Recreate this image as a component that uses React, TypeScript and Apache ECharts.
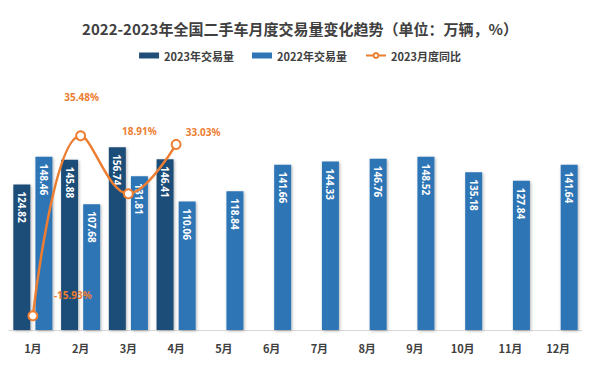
import React, { useEffect, useRef } from "react";
import * as echarts from "echarts";

const months = ["1月", "2月", "3月", "4月", "5月", "6月", "7月", "8月", "9月", "10月", "11月", "12月"];
const vol2023 = [124.82, 145.88, 156.74, 146.41, null, null, null, null, null, null, null, null];
const vol2022 = [148.46, 107.68, 131.81, 110.06, 118.84, 141.66, 144.33, 146.76, 148.52, 135.18, 127.84, 141.64];
const yoy2023 = [-15.93, 35.48, 18.91, 33.03, null, null, null, null, null, null, null, null];
const yoyLabelOffsets = [[40, -5], [1, -23], [11, -47], [27, 3]];

export default function App() {
  const ref = useRef<HTMLDivElement>(null);
  useEffect(() => {
    if (!ref.current) return;
    const chart = echarts.init(ref.current, undefined, { renderer: "svg" });
    const font = "'Noto Sans CJK SC', 'Noto Sans', sans-serif";
    const barLabel = {
      show: true,
      position: "insideTop",
      distance: 7,
      rotate: -90,
      align: "left",
      verticalAlign: "middle",
      color: "#ffffff",
      fontSize: 10,
      fontWeight: "bold",
      fontFamily: "'Noto Sans', sans-serif",
    };
    const barShadow = {
      shadowColor: "rgba(0,0,0,0.3)",
      shadowBlur: 3,
      shadowOffsetX: 1,
      shadowOffsetY: 1,
    };
    chart.setOption({
      animation: false,
      textStyle: { fontFamily: font },
      title: {
        text: "2022-2023年全国二手车月度交易量变化趋势（单位：万辆，%）",
        left: "center",
        top: 16,
        textStyle: { fontSize: 15, fontWeight: "bold", color: "#404040", fontFamily: font },
      },
      legend: {
        top: 45,
        left: "center",
        itemGap: 18,
        textStyle: { fontSize: 11, fontWeight: "bold", color: "#404040", fontFamily: font },
        data: [
          { name: "2023年交易量", icon: "rect", itemStyle: { color: "#1F4E79" } },
          { name: "2022年交易量", icon: "rect", itemStyle: { color: "#2E75B6" } },
          { name: "2023月度同比" },
        ],
        itemWidth: 20,
        itemHeight: 6,
      },
      grid: { left: 9, right: 18, top: 85, bottom: 47, containLabel: false },
      xAxis: {
        type: "category",
        data: months,
        axisLine: { lineStyle: { color: "#D9D9D9", width: 1 } },
        axisTick: { show: false },
        axisLabel: { color: "#404040", fontSize: 11, fontWeight: "bold", margin: 12, fontFamily: font },
      },
      yAxis: [
        { type: "value", min: 0, max: 210, show: false, splitLine: { show: false } },
        { type: "value", min: -20, max: 50, show: false, splitLine: { show: false } },
      ],
      series: [
        {
          name: "2023年交易量",
          type: "bar",
          data: vol2023,
          barWidth: 17,
          barGap: "30%",
          itemStyle: { color: "#1F4E79", ...barShadow },
          label: barLabel,
        },
        {
          name: "2022年交易量",
          type: "bar",
          data: vol2022,
          barWidth: 17,
          barGap: "30%",
          itemStyle: { color: "#2E75B6", ...barShadow },
          label: barLabel,
        },
        {
          name: "2023月度同比",
          type: "line",
          yAxisIndex: 1,
          smooth: 0.4,
          symbol: "circle",
          symbolSize: 9,
          z: 5,
          lineStyle: { color: "#ED7D31", width: 2.5 },
          itemStyle: { color: "#ffffff", borderColor: "#ED7D31", borderWidth: 2 },
          data: yoy2023.map((v, i) =>
            v === null
              ? null
              : {
                  value: v,
                  label: { offset: yoyLabelOffsets[i] },
                }
          ),
          label: {
            show: true,
            position: "top",
            color: "#ED7D31",
            fontSize: 10,
            fontWeight: "bold",
            fontFamily: "'Noto Sans', sans-serif",
            formatter: (p: any) => p.value.toFixed(2) + "%",
          },
        },
      ],
    });
    return () => chart.dispose();
  }, []);
  return <div ref={ref} style={{ width: 600, height: 377, position: "absolute", left: 0, top: 0, background: "#fff" }} />;
}
